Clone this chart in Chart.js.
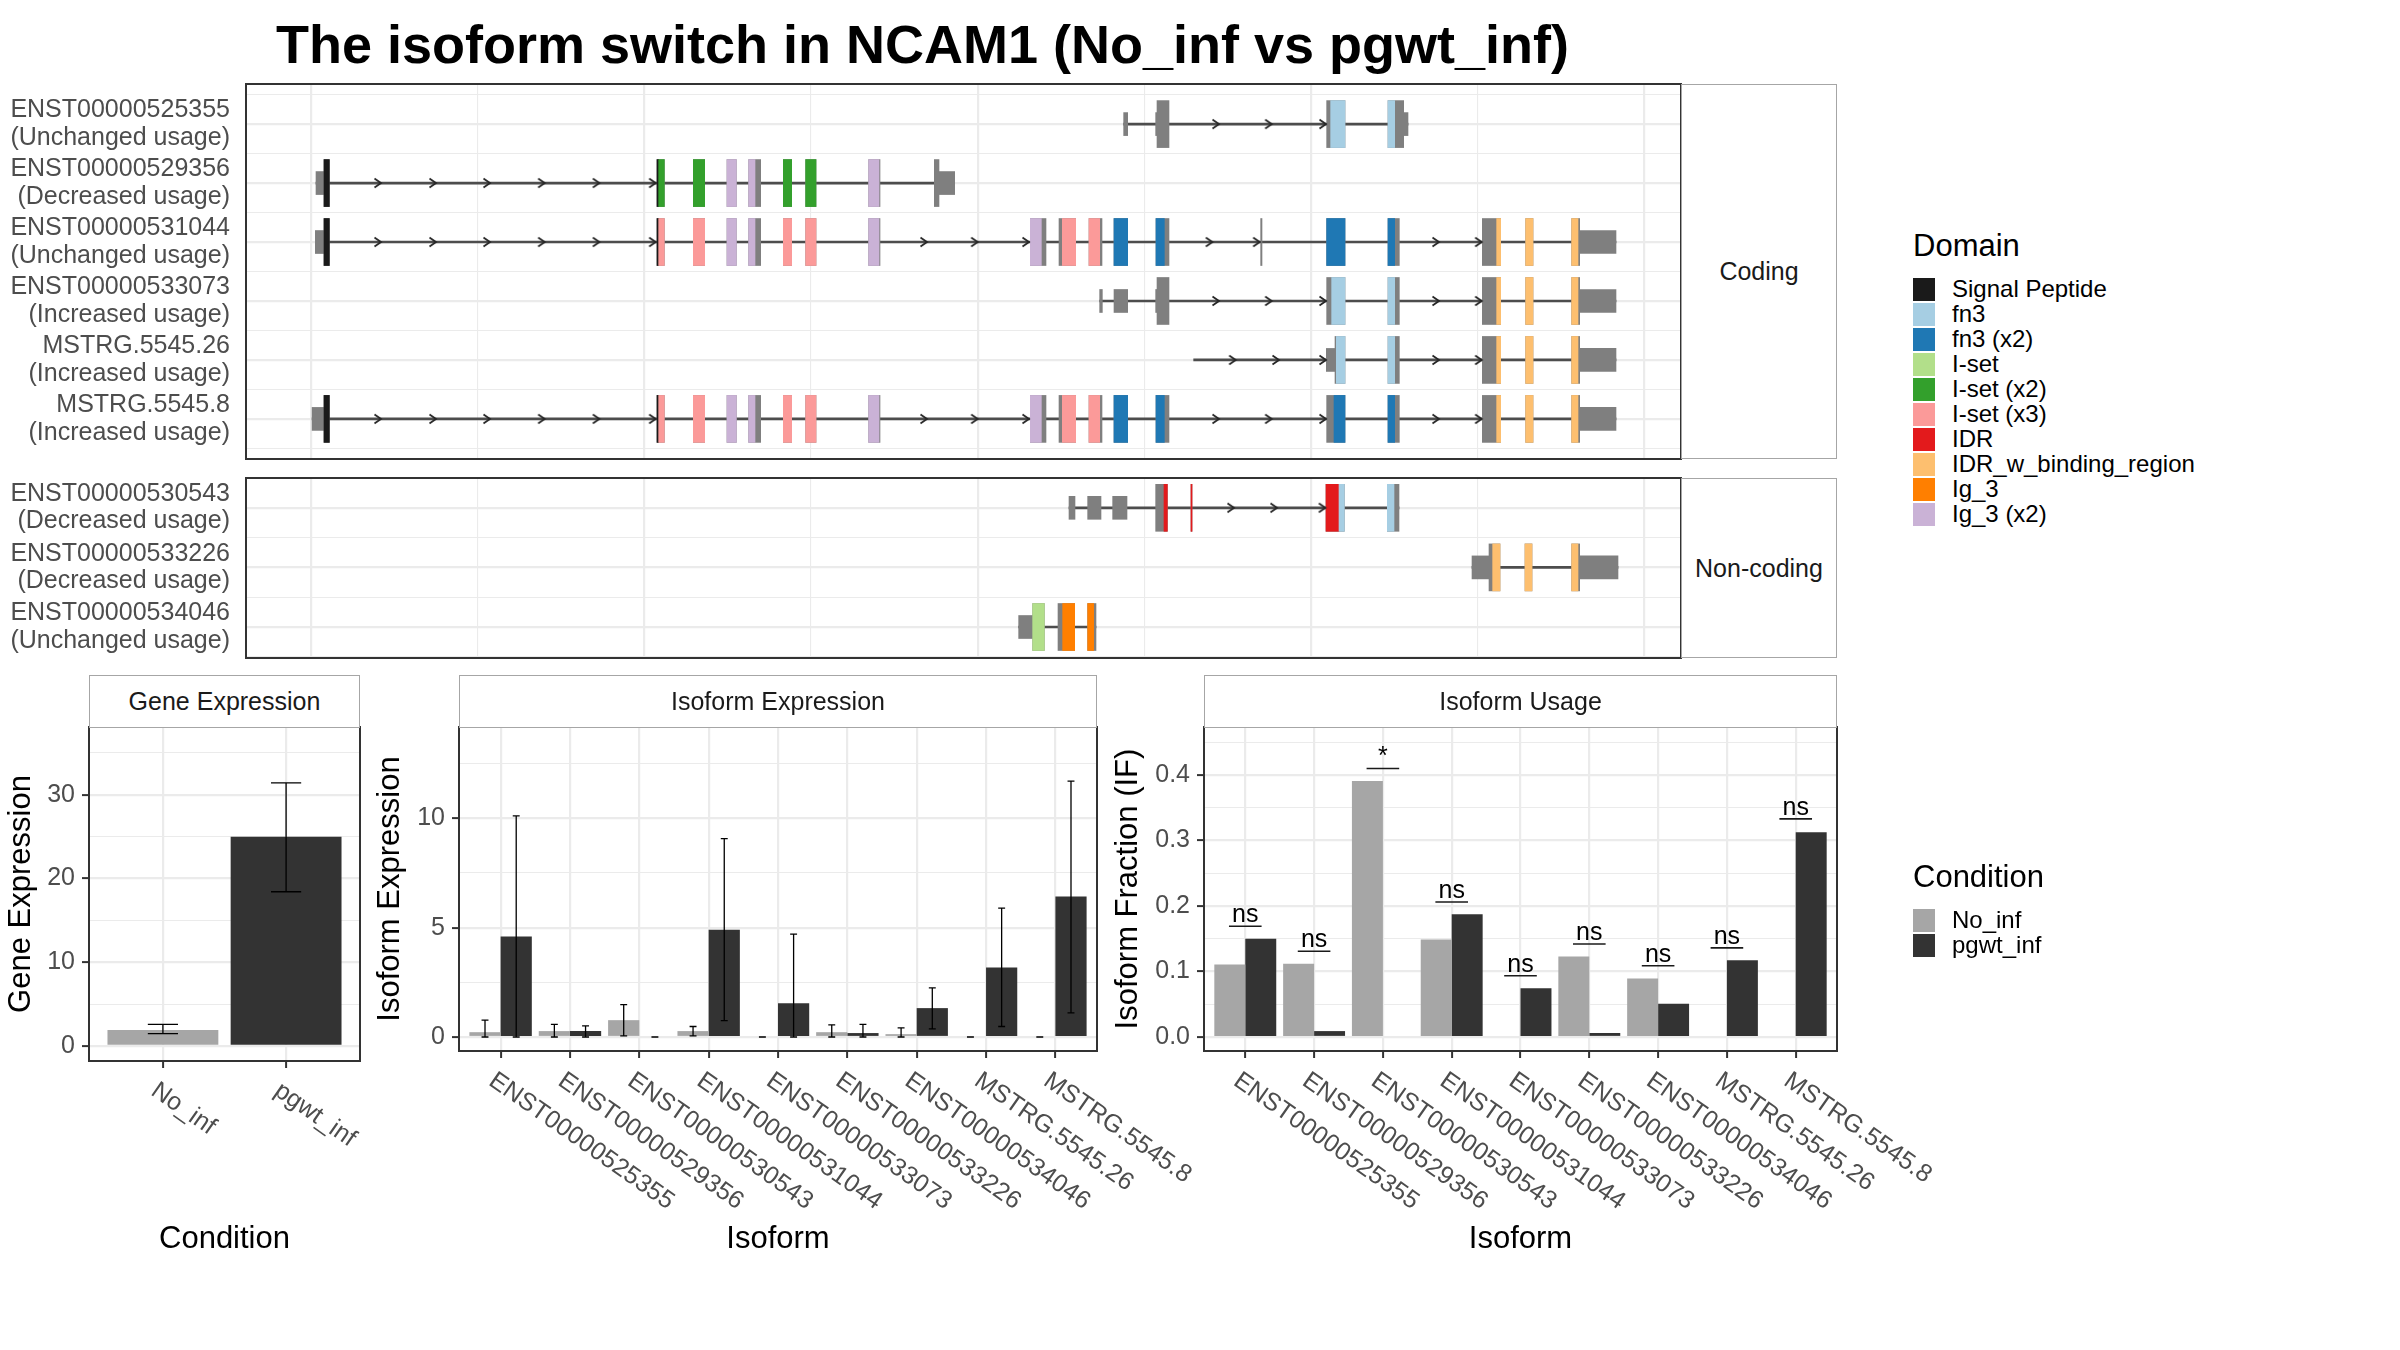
<!DOCTYPE html>
<html>
<head>
<meta charset="utf-8">
<script src="https://cdn.jsdelivr.net/npm/chart.js@4.4.1/dist/chart.umd.min.js"></script>
<style>
  body { margin: 0; background: #fff; }
  #page { position: relative; width: 2400px; height: 1350px; overflow: hidden; font-family: "Liberation Sans", Arial, sans-serif; }
  canvas { position: absolute; }
  .strip { position: absolute; box-sizing: border-box; border: 1.5px solid #a6a6a6; background: #fff; color: #1a1a1a;
           font-size: 25px; display: flex; align-items: center; justify-content: center; }
  .title { position: absolute; left: 276px; top: 17px; font-size: 54px; font-weight: bold; line-height: 54px; white-space: nowrap; color: #000; }
  .lg-title { position: absolute; font-size: 31px; line-height: 36px; color: #000; white-space: nowrap; }
  .lg-key { position: absolute; width: 22px; height: 23px; }
  .lg-text { position: absolute; font-size: 24px; line-height: 28px; color: #000; white-space: nowrap; }
</style>
</head>
<body>
<div id="page">
  <div class="title">The isoform switch in NCAM1 (No_inf vs pgwt_inf)</div>
  <canvas id="coding" width="1690" height="395" style="left:0;top:74px"></canvas>
  <canvas id="noncoding" width="1690" height="200" style="left:0;top:468px"></canvas>
  <div class="strip" style="left:1681px;top:84px;width:156px;height:375px">Coding</div>
  <div class="strip" style="left:1681px;top:478px;width:156px;height:180px">Non-coding</div>
  <canvas id="gene" width="400" height="541" style="left:0;top:717px"></canvas>
  <canvas id="expr" width="845" height="541" style="left:365px;top:717px"></canvas>
  <canvas id="usage" width="850" height="541" style="left:1100px;top:717px"></canvas>
  <div class="strip" style="left:89px;top:675px;width:271px;height:53px">Gene Expression</div>
  <div class="strip" style="left:459px;top:675px;width:638px;height:53px">Isoform Expression</div>
  <div class="strip" style="left:1204px;top:675px;width:633px;height:53px">Isoform Usage</div>
</div>
<script>
// ---- data ----
const domainNames = ['Signal Peptide', 'fn3', 'fn3 (x2)', 'I-set', 'I-set (x2)', 'I-set (x3)', 'IDR', 'IDR_w_binding_region', 'Ig_3', 'Ig_3 (x2)']
const domainColors = ['#1a1a1a', '#a6cee3', '#1f78b4', '#b2df8a', '#33a02c', '#fb9a99', '#e31a1c', '#fdbf6f', '#ff7f00', '#cab2d6']
const condNames = ['No_inf', 'pgwt_inf']
const condColors = ['#a6a6a6', '#333333']

const codingLabels = [
  ['ENST00000525355', '(Unchanged usage)'],
  ['ENST00000529356', '(Decreased usage)'],
  ['ENST00000531044', '(Unchanged usage)'],
  ['ENST00000533073', '(Increased usage)'],
  ['MSTRG.5545.26', '(Increased usage)'],
  ['MSTRG.5545.8', '(Increased usage)']
]
// transcript spans [start, end] per row (genomic axis, arbitrary units)
const codingSpan = [[243.8, 329.1], [1.5, 193.1], [1.3, 391.5], [236.6, 391.5], [264.8, 391.5], [0, 391.5]]
// [row, start, end]
const codingUtr = [
  [1, 243.8, 245.0], [1, 253.4, 253.8], [1, 327.8, 329.1],
  [2, 1.5, 3.9], [2, 188.4, 193.1],
  [3, 1.3, 3.9], [3, 380.6, 391.5],
  [4, 236.6, 237.4], [4, 240.9, 245.0], [4, 253.4, 253.8], [4, 380.6, 391.5],
  [5, 304.6, 307.2], [5, 380.6, 391.5],
  [6, 0, 3.9], [6, 380.6, 391.5]
]
const codingCds = [
  [1, 253.8, 257.4], [1, 304.7, 310.2], [1, 323.1, 327.8],
  [2, 3.9, 5.5], [2, 103.8, 106.0], [2, 114.7, 118.1], [2, 124.8, 127.6], [2, 131.3, 134.9], [2, 141.7, 144.2],
  [2, 148.4, 151.5], [2, 167.3, 170.7], [2, 187.0, 188.4],
  [3, 3.9, 5.5], [3, 103.8, 106.0], [3, 114.7, 118.1], [3, 124.8, 127.6], [3, 131.3, 134.9], [3, 141.7, 144.2],
  [3, 148.4, 151.5], [3, 167.3, 170.7], [3, 215.8, 220.5], [3, 224.4, 229.4], [3, 233.4, 237.3], [3, 240.9, 245.0],
  [3, 253.5, 257.4], [3, 284.9, 285.3], [3, 304.7, 310.2], [3, 323.1, 326.5], [3, 351.4, 356.9], [3, 364.4, 366.6], [3, 378.2, 380.6],
  [4, 253.8, 257.4], [4, 304.7, 310.2], [4, 323.1, 326.5], [4, 351.4, 356.9], [4, 364.4, 366.6], [4, 378.2, 380.6],
  [5, 307.2, 310.2], [5, 323.1, 326.5], [5, 351.4, 356.9], [5, 364.4, 366.6], [5, 378.2, 380.6],
  [6, 3.9, 5.5], [6, 103.8, 106.0], [6, 114.7, 118.1], [6, 124.8, 127.6], [6, 131.3, 134.9], [6, 141.7, 144.2],
  [6, 148.4, 151.5], [6, 167.3, 170.7], [6, 215.8, 220.5], [6, 224.4, 229.4], [6, 233.4, 237.3], [6, 240.9, 245.0],
  [6, 253.5, 257.4], [6, 304.7, 310.2], [6, 323.1, 326.5], [6, 351.4, 356.9], [6, 364.4, 366.6], [6, 378.2, 380.6]
]
// [row, start, end, domain index]
const codingDomains = [
  [1, 305.9, 310.2, 1], [1, 323.1, 325.1, 1],
  [2, 3.9, 5.5, 0], [2, 103.8, 104.3, 0], [2, 104.3, 106.0, 4], [2, 114.7, 118.1, 4], [2, 124.8, 127.6, 9],
  [2, 131.3, 133.2, 9], [2, 141.7, 144.2, 4], [2, 148.4, 151.5, 4], [2, 167.3, 170.4, 9],
  [3, 3.9, 5.5, 0], [3, 103.8, 104.3, 0], [3, 104.3, 106.0, 5], [3, 114.7, 118.1, 5], [3, 124.8, 127.6, 9],
  [3, 131.3, 133.2, 9], [3, 141.7, 144.2, 5], [3, 148.4, 151.5, 5], [3, 167.3, 170.4, 9], [3, 215.8, 219.1, 9],
  [3, 225.4, 229.4, 5], [3, 233.4, 236.6, 5], [3, 240.9, 245.0, 2], [3, 253.5, 256.0, 2], [3, 304.7, 310.2, 2],
  [3, 323.1, 325.1, 2], [3, 355.7, 356.9, 7], [3, 364.4, 366.6, 7], [3, 378.2, 380.1, 7],
  [4, 306.2, 310.2, 1], [4, 323.1, 325.1, 1], [4, 355.7, 356.9, 7], [4, 364.4, 366.6, 7], [4, 378.2, 380.1, 7],
  [5, 307.6, 310.2, 1], [5, 323.1, 325.1, 1], [5, 355.7, 356.9, 7], [5, 364.4, 366.6, 7], [5, 378.2, 380.1, 7],
  [6, 3.9, 5.5, 0], [6, 103.8, 104.3, 0], [6, 104.3, 106.0, 5], [6, 114.7, 118.1, 5], [6, 124.8, 127.6, 9],
  [6, 131.3, 133.2, 9], [6, 141.7, 144.2, 5], [6, 148.4, 151.5, 5], [6, 167.3, 170.4, 9], [6, 215.8, 219.1, 9],
  [6, 225.4, 229.4, 5], [6, 233.4, 236.6, 5], [6, 240.9, 245.0, 2], [6, 253.5, 256.0, 2], [6, 306.9, 310.2, 2],
  [6, 323.1, 325.1, 2], [6, 355.7, 356.9, 7], [6, 364.4, 366.6, 7], [6, 378.2, 380.1, 7]
]
// intron direction arrows [row, position]
const codingArrows = [
  [1, 272.4], [1, 288.2], [1, 304.5],
  [2, 21.0], [2, 37.5], [2, 53.7], [2, 70.1], [2, 86.5], [2, 103.4],
  [3, 21.0], [3, 37.5], [3, 53.7], [3, 70.1], [3, 86.5], [3, 103.4], [3, 184.8], [3, 200.0], [3, 215.4],
  [3, 270.4], [3, 284.6], [3, 338.4], [3, 351.2],
  [4, 272.4], [4, 288.2], [4, 304.5], [4, 338.4], [4, 351.2],
  [5, 277.4], [5, 290.4], [5, 304.5], [5, 338.4], [5, 351.2],
  [6, 21.0], [6, 37.5], [6, 53.7], [6, 70.1], [6, 86.5], [6, 103.4], [6, 184.8], [6, 200.0], [6, 215.4],
  [6, 272.4], [6, 288.2], [6, 304.5], [6, 338.4], [6, 351.2]
]

const ncLabels = [
  ['ENST00000530543', '(Decreased usage)'],
  ['ENST00000533226', '(Decreased usage)'],
  ['ENST00000534046', '(Unchanged usage)']
]
const ncSpan = [[227.4, 326.4], [348.3, 392.1], [212.3, 235.5]]
const ncUtr = [[1, 227.4, 229.2], [1, 233.0, 237.0], [1, 240.5, 244.8], [2, 348.3, 353.4], [2, 380.6, 392.1], [3, 212.3, 216.5]]
const ncCds = [
  [1, 253.4, 256.9], [1, 264.0, 264.3], [1, 304.5, 310.0], [1, 322.9, 326.4],
  [2, 353.4, 356.7], [2, 364.2, 366.3], [2, 378.2, 380.6],
  [3, 216.5, 220.0], [3, 224.1, 229.1], [3, 233.0, 235.5]
]
const ncDomains = [
  [1, 255.9, 256.9, 6], [1, 264.0, 264.3, 6], [1, 304.5, 308.4, 6], [1, 308.4, 310.0, 1], [1, 322.9, 324.9, 1],
  [2, 354.5, 356.7, 7], [2, 364.2, 366.3, 7], [2, 378.2, 380.1, 7],
  [3, 216.5, 220.0, 3], [3, 225.5, 229.1, 8], [3, 233.0, 234.8, 8]
]
const ncArrows = [[1, 276.9], [1, 289.8], [1, 304.3]]

const geneMean = [1.91, 24.98]
const geneLo = [1.48, 18.42]
const geneHi = [2.58, 31.43]

const isoNames = ['ENST00000525355', 'ENST00000529356', 'ENST00000530543', 'ENST00000531044', 'ENST00000533073',
                  'ENST00000533226', 'ENST00000534046', 'MSTRG.5545.26', 'MSTRG.5545.8']
const exprNo   = [0.22, 0.27, 0.77, 0.27, 0, 0.22, 0.13, 0, 0]
const exprNoLo = [0, 0, 0.05, 0.05, 0, 0, 0, 0, 0]
const exprNoHi = [0.77, 0.58, 1.48, 0.48, 0, 0.55, 0.42, 0, 0]
const exprPg   = [4.59, 0.27, 0, 4.90, 1.54, 0.18, 1.32, 3.18, 6.42]
const exprPgLo = [0, 0, 0, 0.75, 0, 0, 0.37, 0.48, 1.10]
const exprPgHi = [10.11, 0.51, 0, 9.07, 4.70, 0.58, 2.25, 5.89, 11.70]

const ifNo = [0.1105, 0.112, 0.391, 0.149, 0, 0.1227, 0.0892, 0, 0]
const ifPg = [0.150, 0.009, 0, 0.1875, 0.0745, 0.0061, 0.0507, 0.1173, 0.3127]
const sigY = [0.169, 0.131, 0.41, 0.206, 0.0934, 0.142, 0.1087, 0.136, 0.333]
const sigText = ['ns', 'ns', '*', 'ns', 'ns', 'ns', 'ns', 'ns', 'ns']

// ---- setup ----
const FONT = '"Liberation Sans", Arial, sans-serif'
Chart.defaults.font.family = FONT
Chart.defaults.color = '#4d4d4d'
Chart.defaults.animation = false
Chart.defaults.events = []
Chart.defaults.plugins.legend.display = false
Chart.defaults.plugins.tooltip.enabled = false

const GRID = '#ebebeb'
const EXON = '#7f7f7f'
const CDS_H = 47
const UTR_H = 23

// fix an axis box to an exact size, with no extra label padding
const fixBox = (w, h) => s => {
  if (w !== null) s.width = w
  if (h !== null) s.height = h
  s.paddingTop = 0
  s.paddingBottom = 0
  s.paddingLeft = 0
  s.paddingRight = 0
}

const panelBox = {
  id: 'panelBox',
  afterDraw(chart) {
    const a = chart.chartArea, c = chart.ctx
    c.save()
    c.strokeStyle = '#333'
    c.lineWidth = 2
    c.strokeRect(a.left, a.top, a.right - a.left, a.bottom - a.top)
    c.restore()
  }
}

// little ">" used on introns
const chevron = document.createElement('canvas')
chevron.width = 20
chevron.height = 14
const cc = chevron.getContext('2d')
cc.strokeStyle = '#262626'
cc.lineWidth = 1.8
cc.beginPath()
cc.moveTo(3.5, 2.5)
cc.lineTo(10, 7)
cc.lineTo(3.5, 11.5)
cc.stroke()

function transcriptChart(id, labels, span, utr, cds, doms, arrows, ymin, ymax) {
  const bar = (rows, h, color, order) => ({
    data: rows.map(r => ({ x: [r[1], r[2]], y: r[0] })),
    backgroundColor: color, barThickness: h, grouped: false, order: order
  })
  new Chart(document.getElementById(id), {
    type: 'bar',
    data: {
      datasets: [
        { type: 'scatter', data: arrows.map(a => ({ x: a[1], y: a[0] })), pointStyle: chevron, order: 0 },
        bar(doms, CDS_H, doms.map(d => domainColors[d[3]]), 1),
        bar(cds, CDS_H, EXON, 2),
        bar(utr, UTR_H, EXON, 3),
        bar(span.map((s, i) => [i + 1, s[0], s[1]]), 2, '#4d4d4d', 4)
      ]
    },
    options: {
      indexAxis: 'y',
      responsive: false,
      layout: { padding: { top: 10, bottom: 10, right: 9, left: 0 } },
      scales: {
        x: {
          type: 'linear', min: -19.5, max: 411,
          ticks: { display: false, stepSize: 50, maxTicksLimit: 100, includeBounds: false },
          grid: { drawTicks: false, color: GRID, lineWidth: c => (c.tick && c.tick.value % 100 === 0) ? 2.2 : 1.1 },
          border: { display: false },
          afterFit: fixBox(null, 0)
        },
        y: {
          type: 'linear', reverse: true, min: ymin, max: ymax, offset: false,
          ticks: {
            stepSize: 0.5, maxTicksLimit: 100, includeBounds: false, autoSkip: false, padding: 16, color: '#4d4d4d',
            font: { size: 25, lineHeight: 1.1 },
            callback: v => Number.isInteger(v) ? labels[v - 1] : ''
          },
          grid: { drawTicks: false, offset: false, color: GRID, lineWidth: c => (c.tick && Number.isInteger(c.tick.value)) ? 2.2 : 1.1 },
          border: { display: false },
          afterFit: fixBox(246, null)
        }
      }
    },
    plugins: [panelBox]
  })
}

transcriptChart('coding', codingLabels, codingSpan, codingUtr, codingCds, codingDomains, codingArrows, 0.32, 6.68)
transcriptChart('noncoding', ncLabels, ncSpan, ncUtr, ncCds, ncDomains, ncArrows, 0.5, 3.52)

// rotated category labels under the bottom panels
function makeSlant(labels) {
  return {
    id: 'slant',
    afterDraw(chart) {
      const xs = chart.scales.x, c = chart.ctx
      c.save()
      c.fillStyle = '#4d4d4d'
      c.font = '25px ' + FONT
      c.textAlign = 'left'
      c.textBaseline = 'top'
      labels.forEach((t, i) => {
        c.save()
        c.translate(xs.getPixelForValue(i + 1) - 2, xs.top + 17)
        c.rotate(35 * Math.PI / 180)
        c.fillText(t, 0, 0)
        c.restore()
      })
      c.restore()
    }
  }
}

function makeErrBars(sets, cap) {
  return {
    id: 'errBars',
    afterDatasetsDraw(chart) {
      const xs = chart.scales.x, ys = chart.scales.y, c = chart.ctx
      const half = (xs.getPixelForValue(cap) - xs.getPixelForValue(0)) / 2
      c.save()
      c.strokeStyle = '#000'
      c.lineWidth = 1.3
      sets.forEach(s => {
        chart.getDatasetMeta(s.ds).data.forEach((b, i) => {
          const y1 = ys.getPixelForValue(s.lo[i]), y2 = ys.getPixelForValue(s.hi[i])
          c.beginPath()
          c.moveTo(b.x, y1); c.lineTo(b.x, y2)
          c.moveTo(b.x - half, y1); c.lineTo(b.x + half, y1)
          c.moveTo(b.x - half, y2); c.lineTo(b.x + half, y2)
          c.stroke()
        })
      })
      c.restore()
    }
  }
}

function makeSig(yv, txt) {
  return {
    id: 'sig',
    afterDatasetsDraw(chart) {
      const xs = chart.scales.x, ys = chart.scales.y, c = chart.ctx
      const half = xs.getPixelForValue(0.237) - xs.getPixelForValue(0)
      c.save()
      c.strokeStyle = '#1a1a1a'
      c.lineWidth = 1.6
      c.fillStyle = '#000'
      c.font = '25px ' + FONT
      c.textAlign = 'center'
      c.textBaseline = 'alphabetic'
      yv.forEach((v, i) => {
        const x = xs.getPixelForValue(i + 1), y = ys.getPixelForValue(v)
        c.beginPath()
        c.moveTo(x - half, y); c.lineTo(x + half, y)
        c.stroke()
        c.fillText(txt[i], x, y - 4)
      })
      c.restore()
    }
  }
}

function bottomScales(n, xTitle, yTitle, ymin, ymax, step, isMajor, fmt, yWidth, yTitlePad, xHeight) {
  return {
    x: {
      type: 'linear', min: 0.4, max: n + 0.6, offset: false,
      afterBuildTicks: s => { s.ticks = Array.from({ length: n }, (_, i) => ({ value: i + 1 })) },
      ticks: { display: false },
      grid: { offset: false, color: GRID, lineWidth: 2.2, tickColor: '#333', tickLength: 7, tickWidth: 2 },
      border: { display: false },
      title: { display: true, text: xTitle, color: '#000', font: { size: 31 }, padding: 0 },
      afterFit: fixBox(null, xHeight)
    },
    y: {
      min: ymin, max: ymax,
      ticks: {
        stepSize: step, maxTicksLimit: 100, includeBounds: false, padding: 7, color: '#4d4d4d', font: { size: 25 },
        callback: v => isMajor(v) ? fmt(v) : ''
      },
      grid: {
        color: GRID, lineWidth: c => (c.tick && isMajor(c.tick.value)) ? 2.2 : 1.1,
        tickColor: c => (c.tick && isMajor(c.tick.value)) ? '#333' : 'rgba(0,0,0,0)', tickLength: 7, tickWidth: 2
      },
      border: { display: false },
      title: { display: true, text: yTitle, color: '#000', font: { size: 31 }, padding: { top: yTitlePad, bottom: 0 } },
      afterFit: fixBox(yWidth, null)
    }
  }
}

// Gene expression
new Chart(document.getElementById('gene'), {
  type: 'bar',
  data: {
    datasets: [{
      data: condNames.map((c, i) => ({ x: i + 1, y: geneMean[i] })),
      backgroundColor: condColors, barPercentage: 0.9, categoryPercentage: 1
    }]
  },
  options: {
    responsive: false,
    layout: { padding: { top: 10, right: 40, left: 0, bottom: 0 } },
    scales: bottomScales(2, 'Condition', 'Gene Expression', -1.8, 38.1, 5, v => Math.round(v) % 10 === 0, v => v, 89, 3, 197)
  },
  plugins: [panelBox, makeSlant(condNames), makeErrBars([{ ds: 0, lo: geneLo, hi: geneHi }], 0.245)]
})

// Isoform expression
new Chart(document.getElementById('expr'), {
  type: 'bar',
  data: {
    datasets: [
      { data: exprNo.map((v, i) => ({ x: i + 1, y: v })), backgroundColor: condColors[0], barPercentage: 1, categoryPercentage: 0.9 },
      { data: exprPg.map((v, i) => ({ x: i + 1, y: v })), backgroundColor: condColors[1], barPercentage: 1, categoryPercentage: 0.9 }
    ]
  },
  options: {
    responsive: false,
    layout: { padding: { top: 10, right: 113, left: 0, bottom: 0 } },
    scales: bottomScales(9, 'Isoform', 'Isoform Expression', -0.64, 14.17, 2.5, v => Math.round(v * 10) % 50 === 0, v => v, 94, 7, 207)
  },
  plugins: [panelBox, makeSlant(isoNames),
    makeErrBars([{ ds: 0, lo: exprNoLo, hi: exprNoHi }, { ds: 1, lo: exprPgLo, hi: exprPgHi }], 0.1)]
})

// Isoform usage
new Chart(document.getElementById('usage'), {
  type: 'bar',
  data: {
    datasets: [
      { data: ifNo.map((v, i) => ({ x: i + 1, y: v })), backgroundColor: condColors[0], barPercentage: 1, categoryPercentage: 0.9 },
      { data: ifPg.map((v, i) => ({ x: i + 1, y: v })), backgroundColor: condColors[1], barPercentage: 1, categoryPercentage: 0.9 }
    ]
  },
  options: {
    responsive: false,
    layout: { padding: { top: 10, right: 113, left: 0, bottom: 0 } },
    scales: bottomScales(9, 'Isoform', 'Isoform Fraction (IF)', -0.0214, 0.4733, 0.05,
      v => Math.round(v * 100) % 10 === 0, v => v.toFixed(1), 104, 10, 207)
  },
  plugins: [panelBox, makeSlant(isoNames), makeSig(sigY, sigText)]
})

// legends
const page = document.getElementById('page')
function addLegend(title, names, colors, titleY, firstY) {
  const t = document.createElement('div')
  t.className = 'lg-title'
  t.textContent = title
  t.style.left = '1913px'
  t.style.top = (titleY - 18) + 'px'
  page.appendChild(t)
  names.forEach((n, i) => {
    const y = firstY + i * 25
    const k = document.createElement('div')
    k.className = 'lg-key'
    k.style.left = '1913px'
    k.style.top = (y - 11.5) + 'px'
    k.style.background = colors[i]
    page.appendChild(k)
    const l = document.createElement('div')
    l.className = 'lg-text'
    l.textContent = n
    l.style.left = '1952px'
    l.style.top = (y - 14) + 'px'
    page.appendChild(l)
  })
}
addLegend('Domain', domainNames, domainColors, 246, 289)
addLegend('Condition', condNames, condColors, 877, 920)
</script>
</body>
</html>
